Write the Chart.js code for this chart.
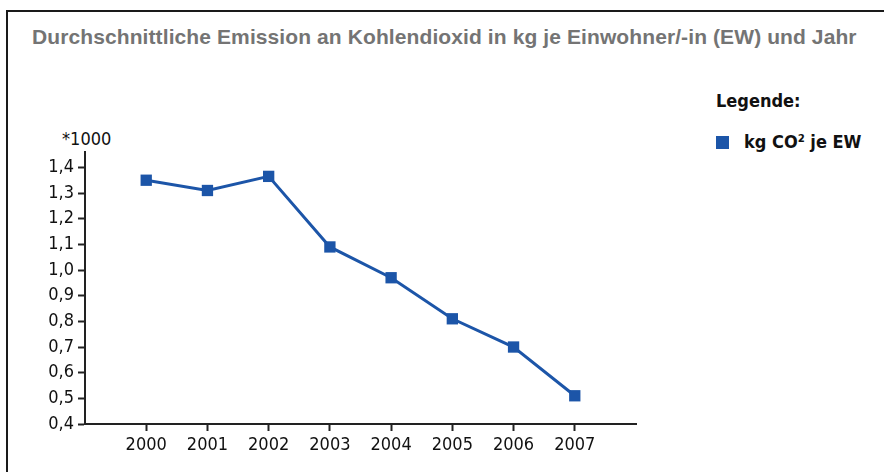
<!DOCTYPE html>
<html>
<head>
<meta charset="utf-8">
<script src="https://cdn.jsdelivr.net/npm/chart.js@4.4.1/dist/chart.umd.min.js"></script>
<style>
  html, body { margin: 0; padding: 0; background: #fff; overflow: hidden; }
  body { width: 884px; height: 472px; position: relative; }
  .frame { position: absolute; left: 6px; top: 10px; width: 1000px; height: 600px;
           border-left: 2px solid #1a1a1a; border-top: 2px solid #1a1a1a; }
  .title { position: absolute; left: 32px; top: 26px; font: bold 21px "Liberation Sans", Arial, sans-serif;
           color: #747474; line-height: 1; white-space: nowrap; letter-spacing: 0.1px; }
  .unit { position: absolute; left: 62px; top: 130px; font: 18px "DejaVu Sans Condensed", sans-serif;
          color: #111; line-height: 1; }
  .leg-title { position: absolute; left: 716px; top: 92px; font: bold 18px "DejaVu Sans Condensed", sans-serif;
               color: #111; line-height: 1; }
  .leg-item { position: absolute; left: 716px; top: 133px; font: bold 18px "DejaVu Sans Condensed", sans-serif;
              color: #111; line-height: 1; white-space: nowrap; }
  .leg-item span.box { display: inline-block; width: 13px; height: 13px; margin-right: 15px; vertical-align: -1px; }
  canvas { position: absolute; left: 0; top: 0; }
</style>
</head>
<body>
<div class="frame"></div>
<div class="title">Durchschnittliche Emission an Kohlendioxid in kg je Einwohner/-in (EW) und Jahr</div>
<div class="unit">*1000</div>
<div class="leg-title">Legende:</div>
<div class="leg-item" id="legItem"></div>
<canvas id="myChart" width="884" height="472"></canvas>
<script>
var years = [2000, 2001, 2002, 2003, 2004, 2005, 2006, 2007];
var emission = [1.35, 1.31, 1.365, 1.09, 0.97, 0.81, 0.70, 0.51];
var yTicks = [0.4, 0.5, 0.6, 0.7, 0.8, 0.9, 1.0, 1.1, 1.2, 1.3, 1.4];
var seriesLabel = 'kg CO² je EW';
var lineColor = '#1c55a8';

var tickFont = { family: '"DejaVu Sans Condensed", sans-serif', size: 18 };

var points = years.map(function (y, i) { return { x: y, y: emission[i] }; });

var ctx = document.getElementById('myChart').getContext('2d');
var myChart = new Chart(ctx, {
    type: 'line',
    data: {
        datasets: [{
            label: seriesLabel,
            data: points,
            borderColor: lineColor,
            backgroundColor: lineColor,
            borderWidth: 3,
            pointStyle: 'rect',
            pointRadius: 8,
            pointBorderWidth: 0,
            tension: 0
        }]
    },
    options: {
        responsive: false,
        animation: false,
        layout: { padding: { left: 0, right: 248, top: 152, bottom: 0 } },
        plugins: {
            legend: { display: false },
            title: { display: false },
            tooltip: { enabled: false }
        },
        scales: {
            x: {
                type: 'linear',
                min: 1999,
                max: 2008,
                ticks: {
                    stepSize: 1,
                    color: '#111',
                    font: tickFont,
                    padding: 4,
                    maxRotation: 0,
                    callback: function (v) { return (v > 1999 && v < 2008) ? String(v) : ''; }
                },
                grid: {
                    drawOnChartArea: false,
                    tickLength: 7,
                    tickWidth: 2,
                    tickColor: function (c) { return (c.tick && c.tick.value > 1999 && c.tick.value < 2008) ? '#222' : 'rgba(0,0,0,0)'; }
                },
                border: { color: '#222', width: 2 },
                afterFit: function (s) { s.height = 48; }
            },
            y: {
                min: 0.4,
                max: 1.46,
                ticks: {
                    color: '#111',
                    font: tickFont,
                    padding: 4,
                    callback: function (v) { return v.toFixed(1).replace('.', ','); }
                },
                afterBuildTicks: function (s) {
                    s.ticks = yTicks.map(function (v) { return { value: v }; });
                },
                grid: {
                    drawOnChartArea: false,
                    tickLength: 7,
                    tickWidth: 2,
                    tickColor: '#222'
                },
                border: { color: '#222', width: 2 },
                afterFit: function (s) { s.width = 85; }
            }
        }
    }
});

var ds = myChart.data.datasets[0];
document.getElementById('legItem').innerHTML =
    '<span class="box" style="background:' + ds.borderColor + '"></span>' + ds.label;
</script>
</body>
</html>
